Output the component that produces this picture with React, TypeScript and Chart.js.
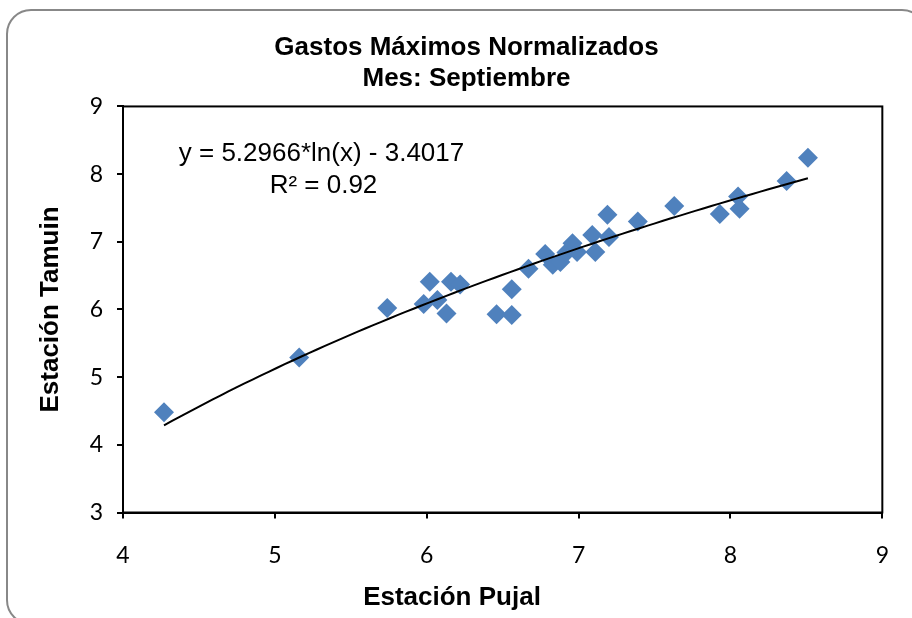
import React, { useEffect, useRef } from 'react';
import { Chart, registerables } from 'chart.js';

Chart.register(...registerables);

// Estación Pujal (x) values
const pujal = [
  4.27, 5.16, 5.74, 5.98, 6.02, 6.07, 6.13, 6.16, 6.22, 6.46,
  6.56, 6.56, 6.67, 6.78, 6.83, 6.88, 6.92, 6.96, 6.99, 7.09,
  7.11, 7.19, 7.20, 7.39, 7.63, 7.93, 8.05, 8.06, 8.37, 8.51,
];
// Estación Tamuin (y) values
const tamuin = [
  4.48, 5.29, 6.02, 6.08, 6.41, 6.14, 5.94, 6.41, 6.37, 5.93,
  5.92, 6.30, 6.60, 6.82, 6.66, 6.70, 6.84, 6.98, 6.85, 7.10,
  6.85, 7.40, 7.07, 7.30, 7.53, 7.41, 7.67, 7.49, 7.90, 8.24,
];

// Logarithmic trend line coefficients shown on the chart
const trendA = 5.2966;
const trendB = -3.4017;

const titleLines = ['Gastos Máximos Normalizados', 'Mes: Septiembre'];
const equationLines = ['y = 5.2966*ln(x) - 3.4017', 'R² = 0.92'];
const xTitle = 'Estación Pujal';
const yTitle = 'Estación Tamuin';

const ARIAL = '"Liberation Sans", Arial, sans-serif';
const TICKFONT = 'Lato, "Open Sans", sans-serif';

export default function App() {
  const ref = useRef<HTMLCanvasElement>(null);

  useEffect(() => {
    if (!ref.current) return;
    const points = pujal.map((x, i) => ({ x, y: tamuin[i] }));
    const minX = Math.min(...pujal);
    const maxX = Math.max(...pujal);
    const trend: { x: number; y: number }[] = [];
    const n = 80;
    for (let i = 0; i <= n; i++) {
      const x = minX + ((maxX - minX) * i) / n;
      trend.push({ x, y: trendA * Math.log(x) + trendB });
    }

    const framePlugin = {
      id: 'plotFrame',
      beforeDatasetsDraw(chart: any) {
        const { ctx, chartArea } = chart;
        ctx.save();
        ctx.strokeStyle = '#000';
        ctx.lineWidth = 2;
        ctx.strokeRect(chartArea.left, chartArea.top, chartArea.right - chartArea.left, chartArea.bottom - chartArea.top);
        ctx.restore();
      },
    };

    const textPlugin = {
      id: 'extraText',
      afterDatasetsDraw(chart: any) {
        const { ctx, chartArea } = chart;
        ctx.save();
        ctx.fillStyle = '#000';
        ctx.textAlign = 'center';
        ctx.textBaseline = 'middle';
        // trend line equation
        ctx.font = '26px ' + ARIAL;
        const cx = chartArea.left + 198.5;
        ctx.fillText(equationLines[0], cx, chartArea.top + 47.5);
        ctx.fillText(equationLines[1], cx + 2, chartArea.top + 79);
        // x axis title
        ctx.font = 'bold 26px ' + ARIAL;
        ctx.fillText(xTitle, chartArea.left + 329, chartArea.bottom + 85.5);
        ctx.restore();
      },
    };

    const chart = new Chart(ref.current, {
      type: 'scatter',
      data: {
        datasets: [
          {
            type: 'line',
            label: 'Tendencia',
            data: trend,
            borderColor: '#000',
            borderWidth: 2,
            pointRadius: 0,
            fill: false,
            tension: 0,
            order: 0,
          } as any,
          {
            label: 'Datos',
            data: points,
            pointStyle: 'rectRot',
            pointRadius: 10,
            backgroundColor: '#4F81BD',
            borderColor: '#4F81BD',
            borderWidth: 0,
            order: 1,
          },
        ],
      },
      options: {
        responsive: false,
        animation: false,
        devicePixelRatio: 1,
        layout: { padding: { left: 50, right: 29, top: 0, bottom: 0 } },
        plugins: {
          legend: { display: false },
          tooltip: { enabled: false },
          title: {
            display: true,
            text: titleLines,
            color: '#000',
            font: { family: ARIAL, size: 26, weight: 'bold', lineHeight: 1.22 },
            padding: { top: 31.5, bottom: 11.5 },
          },
        },
        scales: {
          x: {
            type: 'linear',
            min: 4,
            max: 9,
            ticks: { stepSize: 1, color: '#000', font: { family: TICKFONT, size: 23 }, padding: 23 },
            grid: { display: true, drawOnChartArea: false, drawTicks: true, tickLength: 6, color: '#000', lineWidth: 2 },
            border: { display: true, color: '#000', width: 2 },
            title: { display: false, text: xTitle },
            afterFit: (s: any) => {
              s.height = 105.5;
            },
          },
          y: {
            type: 'linear',
            min: 3,
            max: 9,
            ticks: { stepSize: 1, color: '#000', font: { family: TICKFONT, size: 23 }, padding: 14 },
            grid: { display: true, drawOnChartArea: false, drawTicks: true, tickLength: 6, color: '#000', lineWidth: 2 },
            border: { display: true, color: '#000', width: 2 },
            title: {
              display: true,
              text: yTitle,
              color: '#000',
              font: { family: ARIAL, size: 26, weight: 'bold', lineHeight: 1.2 },
              padding: { top: -15, bottom: 0 },
            },
            afterFit: (s: any) => {
              s.width = 73;
            },
          },
        },
      },
      plugins: [framePlugin, textPlugin],
    });

    return () => chart.destroy();
  }, []);

  return (
    <div style={{ position: 'fixed', left: 0, top: 0, width: 912, height: 618, overflow: 'hidden', background: '#fff' }}>
      <div
        style={{
          position: 'absolute',
          left: 6,
          top: 9,
          width: 921,
          height: 616,
          border: '2px solid #888',
          borderRadius: 25,
          boxSizing: 'border-box',
        }}
      />
      <canvas ref={ref} width={912} height={618} style={{ position: 'absolute', left: 0, top: 0 }} />
    </div>
  );
}
